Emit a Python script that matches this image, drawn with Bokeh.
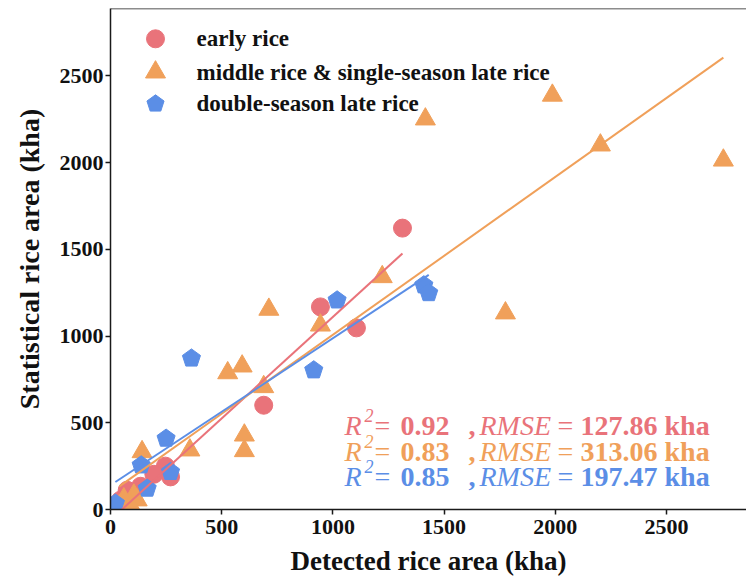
import numpy as np
from bokeh.plotting import figure
from bokeh.models import Span, Range1d, ColumnDataSource, FixedTicker
from bokeh.core.properties import value
from bokeh.embed import file_html
from bokeh.resources import INLINE

# ---------------- data ----------------
early_x = [1313, 944, 1106, 689, 247, 195, 270, 135, 75, 45]
early_y = [1622, 1168, 1047, 601, 250, 203, 188, 134, 111, 54]

middle_x = [2756, 2203, 1987, 1416, 1776, 1222, 944, 712, 689, 592, 527,
            602, 602, 357, 142, 120, 105, 90, 60, 40]
middle_y = [2013, 2100, 2387, 2250, 1132, 1341, 1062, 1153, 707, 826, 787,
            428, 338, 342, 332, 54, 82, 25, 60, 20]

double_x = [1019, 1409, 1431, 914, 364, 250, 138, 270, 165, 22]
double_y = [1206, 1293, 1248, 803, 871, 409, 255, 217, 121, 35]

# linear fits (slope, intercept)
fit_slope = [1.17, 0.91, 0.847]
fit_intercept = [-60, 97, 140]

series_names = ["early rice", "middle rice & single-season late rice", "double-season late rice"]
r2_values = ["0.92", "0.83", "0.85"]
rmse_values = ["127.86", "313.06", "197.47"]
ticks = [0, 500, 1000, 1500, 2000, 2500]

colors = ["#E9737A", "#F0A05A", "#5B8EE6"]

# ---------------- layout ----------------
FW, FH = 636, 501
X_END, Y_END = 2860, 2888
FONT = "Liberation Serif"

p = figure(frame_width=FW, frame_height=FH,
           x_range=Range1d(0, X_END), y_range=Range1d(0, Y_END),
           output_backend="svg", toolbar_location=None,
           min_border_left=110, min_border_right=0, min_border_top=8, min_border_bottom=72)
p.outline_line_color = None
p.xgrid.visible = False
p.ygrid.visible = False
p.background_fill_color = "white"


def fx(px):
    """frame-relative pixel -> data x"""
    return px * X_END / FW


def fy(py):
    """frame-relative pixel from top -> data y"""
    return (FH - py) * Y_END / FH


for ax in (p.xaxis[0], p.yaxis[0]):
    ax.ticker = FixedTicker(ticks=ticks)
    ax.axis_line_color = "#1a1a1a"
    ax.axis_line_width = 1.5
    ax.major_tick_line_color = "#1a1a1a"
    ax.major_tick_line_width = 1.5
    ax.major_tick_out = 5
    ax.major_tick_in = 0
    ax.minor_tick_line_color = None
    ax.major_label_text_font = FONT
    ax.major_label_text_font_style = "bold"
    ax.major_label_text_font_size = "22px"
    ax.major_label_text_color = "#111111"
    ax.axis_label_text_font = FONT
    ax.axis_label_text_font_style = "bold"
    ax.axis_label_text_color = "#111111"

p.xaxis.axis_label = "Detected rice area (kha)"
p.yaxis.axis_label = "Statistical rice area (kha)"
p.xaxis.axis_label_text_font_size = "27px"
p.yaxis.axis_label_text_font_size = "28px"
p.xaxis.major_label_standoff = 5
p.xaxis.axis_label_standoff = 9
p.yaxis.major_label_standoff = 2
p.yaxis.axis_label_standoff = 12

p.add_layout(Span(location=Y_END, dimension="width", line_color="#1a1a1a", line_width=1.5))

# ---------------- markers ----------------
MS = 18
p.scatter(early_x, early_y, marker="circle", size=MS, fill_color=colors[0], line_color=colors[0])
p.scatter(middle_x, middle_y, marker="triangle", size=MS + 2, fill_color=colors[1], line_color=colors[1])

sx = FW / X_END
sy = FH / Y_END
ang = np.deg2rad(90 + 72 * np.arange(5))
R_PENT = 9.5


def pentagons(xs, ys, r=R_PENT):
    px = [list(x + r * np.cos(ang) / sx) for x in xs]
    py = [list(y + r * np.sin(ang) / sy) for y in ys]
    return px, py


bxs, bys = pentagons(double_x, double_y)
p.patches(bxs, bys, fill_color=colors[2], line_color=colors[2])

# ---------------- fit lines ----------------
for xs, slope, icpt, col in zip([early_x, middle_x, double_x], fit_slope, fit_intercept, colors):
    x0, x1 = min(xs), max(xs)
    p.line([x0, x1], [icpt + slope * x0, icpt + slope * x1], line_color=col, line_width=2)

# ---------------- legend (manual, to allow pentagon symbol) ----------------
leg_rows = [30.3, 63.7, 95.3]
leg_mx = fx(45)
p.scatter([leg_mx], [fy(leg_rows[0])], marker="circle", size=MS, fill_color=colors[0], line_color=colors[0])
p.scatter([leg_mx], [fy(leg_rows[1])], marker="triangle", size=MS + 2, fill_color=colors[1], line_color=colors[1])
lpx, lpy = pentagons([leg_mx], [fy(leg_rows[2])], r=9)
p.patches(lpx, lpy, fill_color=colors[2], line_color=colors[2])
p.text(x=[fx(86)] * 3, y=[fy(r) for r in leg_rows], text=series_names,
       text_font=value(FONT), text_font_style="bold", text_font_size="23px",
       text_color="#111111", text_baseline="middle", text_align="left")

# ---------------- statistics annotation ----------------
stat_rows = [417, 443, 468]
anchor_x = fx(234)
tx, ty, tt, tstyle, tsize, txo, tyo, tcol = [], [], [], [], [], [], [], []
for i in range(3):
    pieces = [
        ("R", "italic", "28px", 0, 0),
        ("2", "italic", "18px", 20, -10),
        ("=", "normal", "28px", 30, 0),
        (r2_values[i], "bold", "28px", 56, 0),
        (",", "bold", "28px", 124, 0),
        ("RMSE", "italic", "28px", 135, 0),
        ("=", "normal", "28px", 213, 0),
        (rmse_values[i] + " kha", "bold", "28px", 236, 0),
    ]
    for t, st, sz, xo, yo in pieces:
        tx.append(anchor_x)
        ty.append(fy(stat_rows[i]))
        tt.append(t)
        tstyle.append(st)
        tsize.append(sz)
        txo.append(xo)
        tyo.append(yo)
        tcol.append(colors[i])

stat_src = ColumnDataSource(dict(x=tx, y=ty, text=tt, style=tstyle, size=tsize,
                                 xo=txo, yo=tyo, color=tcol))
p.text(x="x", y="y", text="text", source=stat_src, x_offset="xo", y_offset="yo",
       text_font=value(FONT), text_font_style="style", text_font_size="size",
       text_color="color", text_baseline="middle", text_align="left")

open("out.html", "w").write(file_html(p, INLINE))
